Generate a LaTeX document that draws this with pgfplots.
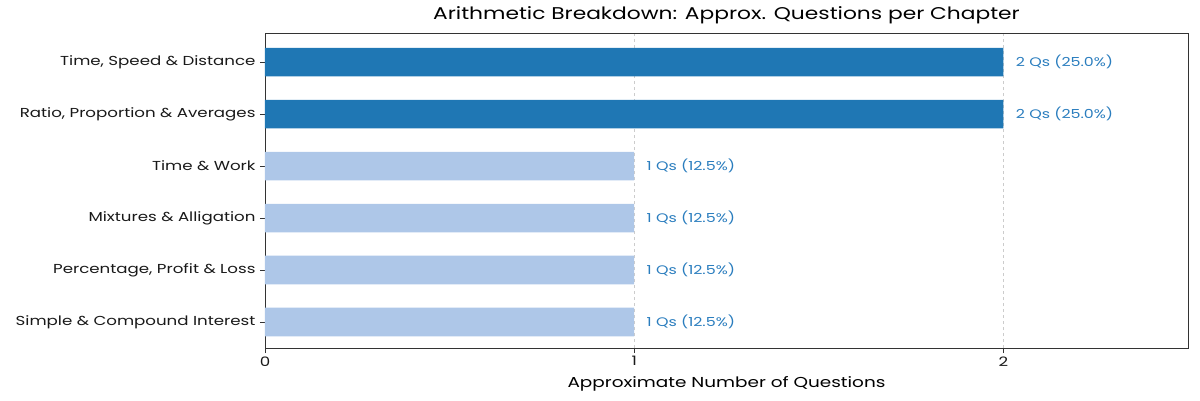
\documentclass[border=0pt]{standalone}
\usepackage{pgfplots}
\pgfplotsset{compat=1.18}
\usepackage{fontspec}
\setmainfont{Poppins}[FakeStretch=1.28]
\definecolor{darkbar}{HTML}{1F77B4}
\definecolor{lightbar}{HTML}{AEC7E8}
\definecolor{labtext}{HTML}{2A7DBE}
\begin{document}
\begin{tikzpicture}
\begin{axis}[
  at={(0,0)}, anchor=south west,
  scale only axis,
  width=923pt, height=315pt,
  xmin=0, xmax=2.5,
  ymin=-0.5, ymax=5.56,
  xtick={0,1,2},
  ytick={0,1,2,3,4,5},
  yticklabels={Simple \& Compound Interest, {Percentage, Profit \& Loss}, Mixtures \& Alligation, Time \& Work, {Ratio, Proportion \& Averages}, {Time, Speed \& Distance}},
  tick align=outside,
  xtick pos=bottom, ytick pos=left,
  major tick length=5pt,
  tick style={black!80, line width=0.8pt},
  axis line style={black!80, line width=0.8pt},
  xmajorgrids,
  grid style={dashed, black!20, line width=0.6pt},
  ticklabel style={font=\fontsize{13}{15}\selectfont, text=black!90},
  yticklabel style={xshift=-1pt},
  /pgf/number format/assume math mode=true,
  xlabel={Approximate Number of Questions},
  xlabel style={font=\fontsize{14.4}{16}\selectfont, yshift=-4pt},
  title={Arithmetic Breakdown: Approx. Questions per Chapter},
  title style={font=\fontsize{17}{20}\selectfont, yshift=0pt},
  xbar, bar width=0.55, bar shift=0pt,
  nodes near coords,
  point meta=explicit symbolic,
  every node near coord/.append style={font=\fontsize{12.4}{14}\selectfont, text=labtext, anchor=west, xshift=9pt},
]
\addplot[fill=lightbar, draw=none] table[meta=lab, col sep=comma] {
x,y,lab
1,0,1 Qs (12.5\%)
1,1,1 Qs (12.5\%)
1,2,1 Qs (12.5\%)
1,3,1 Qs (12.5\%)
};
\addplot[fill=darkbar, draw=none] table[meta=lab, col sep=comma] {
x,y,lab
2,4,2 Qs (25.0\%)
2,5,2 Qs (25.0\%)
};
\end{axis}
\path[use as bounding box] (-265pt,-52pt) rectangle (935pt,348pt);
\end{tikzpicture}
\end{document}
